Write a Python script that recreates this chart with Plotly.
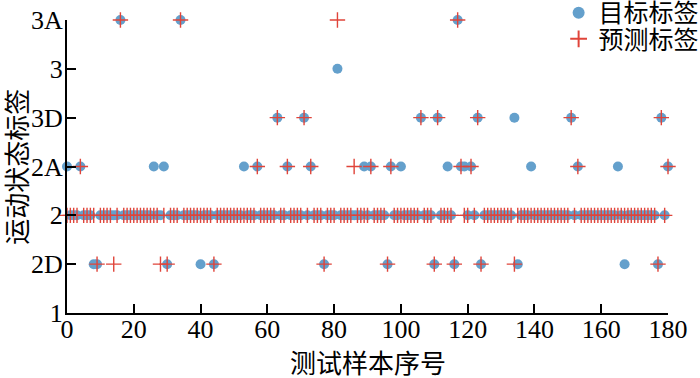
import plotly.graph_objects as go

# Motion-state label levels (bottom to top)
levels = ["1", "2D", "2", "2A", "3D", "3", "3A"]

# Target labels for test samples 0..183
target_labels = [
    "2A", "2", "2", "2", "2A", "2", "2", "2", "2D", "2D",
    "2", "2", "2", "2", "2", "2", "3A", "2", "2", "2",
    "2", "2", "2", "2", "2", "2", "2A", "2", "2", "2A",
    "2D", "2", "2", "2", "3A", "2", "2", "2", "2", "2",
    "2D", "2", "2", "2", "2D", "2", "2", "2", "2", "2",
    "2", "2", "2", "2A", "2", "2", "2", "2A", "2", "2",
    "2", "2", "2", "3D", "2", "2", "2A", "2", "2", "2",
    "2", "3D", "2", "2A", "2", "2", "2", "2D", "2", "2",
    "2", "3", "2", "2", "2", "2", "2", "2", "2", "2A",
    "2", "2A", "2", "2", "2", "2", "2D", "2A", "2", "2",
    "2A", "2", "2", "2", "2", "2", "3D", "2", "2", "2",
    "2D", "3D", "2", "2", "2A", "2", "2D", "3A", "2A", "2A",
    "2", "2A", "2", "3D", "2D", "2", "2", "2", "2", "2",
    "2", "2", "2", "2", "3D", "2D", "2", "2", "2", "2A",
    "2", "2", "2", "2", "2", "2", "2", "2", "2", "2",
    "2", "3D", "2", "2A", "2", "2", "2", "2", "2", "2",
    "2", "2", "2", "2", "2", "2A", "2", "2D", "2", "2",
    "2", "2", "2", "2", "2", "2", "2", "2D", "3D", "2",
    "2A", "2", "2", "2",
]

# Predicted labels for test samples 0..183
predicted_labels = [
    "2", "2", "2", "2", "2A", "2", "2", "2", "2", "2D",
    "2", "2", "2", "2", "2D", "2", "3A", "2", "2", "2",
    "2", "2", "2", "2", "2", "2", "2", "2", "2D", "2",
    "2D", "2", "2", "2", "3A", "2", "2", "2", "2", "2",
    "2", "2", "2", "2", "2D", "2", "2", "2", "2", "2",
    "2", "2", "2", "2", "2", "2", "2", "2A", "2", "2",
    "2", "2", "2", "3D", "2", "2", "2A", "2", "2", "2",
    "2", "3D", "2", "2A", "2", "2", "2", "2D", "2", "2",
    "2", "3A", "2", "2", "2", "2", "2A", "2", "2", "2",
    "2", "2A", "2", "2", "2", "2", "2D", "2A", "2", "2",
    "2", "2", "2", "2", "2", "2", "3D", "2", "2", "2",
    "2D", "3D", "2", "2", "2", "2", "2D", "3A", "2A", "2",
    "2", "2A", "2", "3D", "2D", "2", "2", "2", "2", "2",
    "2", "2", "2", "2", "2D", "2", "2", "2", "2", "2",
    "2", "2", "2", "2", "2", "2", "2", "2", "2", "2",
    "2", "3D", "2", "2A", "2", "2", "2", "2", "2", "2",
    "2", "2", "2", "2", "2", "2", "2", "2", "2", "2",
    "2", "2", "2", "2", "2", "2", "2", "2D", "3D", "2",
    "2A", "2", "2", "2",
]

x_ticks = [0, 20, 40, 60, 80, 100, 120, 140, 160, 180]

level_pos = {lab: i + 1 for i, lab in enumerate(levels)}
sample_idx = list(range(len(target_labels)))
y_target = [level_pos[v] for v in target_labels]
y_pred = [level_pos[v] for v in predicted_labels]

serif = "Liberation Serif, Times New Roman, serif"
cjk = "Noto Sans CJK SC, sans-serif"

fig = go.Figure()
fig.add_trace(go.Scatter(
    x=sample_idx, y=y_target, mode="markers", name="目标标签", legend="legend",
    marker=dict(symbol="circle", size=10, color="#64a0cc", line=dict(width=0)),
    cliponaxis=False,
))
fig.add_trace(go.Scatter(
    x=sample_idx, y=y_pred, mode="markers", name="预测标签", legend="legend2",
    marker=dict(symbol="cross-thin", size=11, color="#e0443a",
                line=dict(width=1.4, color="#e0443a")),
    cliponaxis=False,
))

leg_common = dict(
    xanchor="left", yanchor="middle",
    bgcolor="rgba(0,0,0,0)",
    font=dict(family=cjk, size=25, color="black"),
    itemsizing="constant",
)

fig.update_layout(
    width=700, height=378,
    margin=dict(l=67, r=32, t=20, b=65, autoexpand=False),
    plot_bgcolor="white", paper_bgcolor="white",
    showlegend=True,
    legend=dict(x=0.818, y=1.024, **leg_common),
    legend2=dict(x=0.818, y=0.935, **leg_common),
    annotations=[
        dict(text="测试样本序号", xref="paper", yref="paper", x=0.5, y=-0.164,
             xanchor="center", yanchor="middle", showarrow=False,
             font=dict(family=cjk, size=26, color="black")),
        dict(text="运动状态标签", xref="paper", yref="paper", x=-0.086, y=0.5,
             xanchor="center", yanchor="middle", showarrow=False, textangle=-90,
             font=dict(family=cjk, size=26, color="black")),
    ],
)
fig.update_xaxes(
    range=[0, 180], tickvals=x_ticks,
    showline=True, linewidth=2, linecolor="black",
    ticks="inside", ticklen=9, tickwidth=2, tickcolor="black",
    showgrid=False, zeroline=False, ticklabelstandoff=-8,
    tickfont=dict(family=serif, size=26, color="black"),
)
fig.update_yaxes(
    range=[1, 7], tickvals=list(range(1, 8)), ticktext=levels,
    showline=True, linewidth=2, linecolor="black",
    ticks="inside", ticklen=9, tickwidth=2, tickcolor="black",
    showgrid=False, zeroline=False, ticklabelstandoff=-3,
    tickfont=dict(family=serif, size=26, color="black"),
)

fig.write_html("out.html", config={"displayModeBar": False},
               post_script="document.body.style.margin='0';")
